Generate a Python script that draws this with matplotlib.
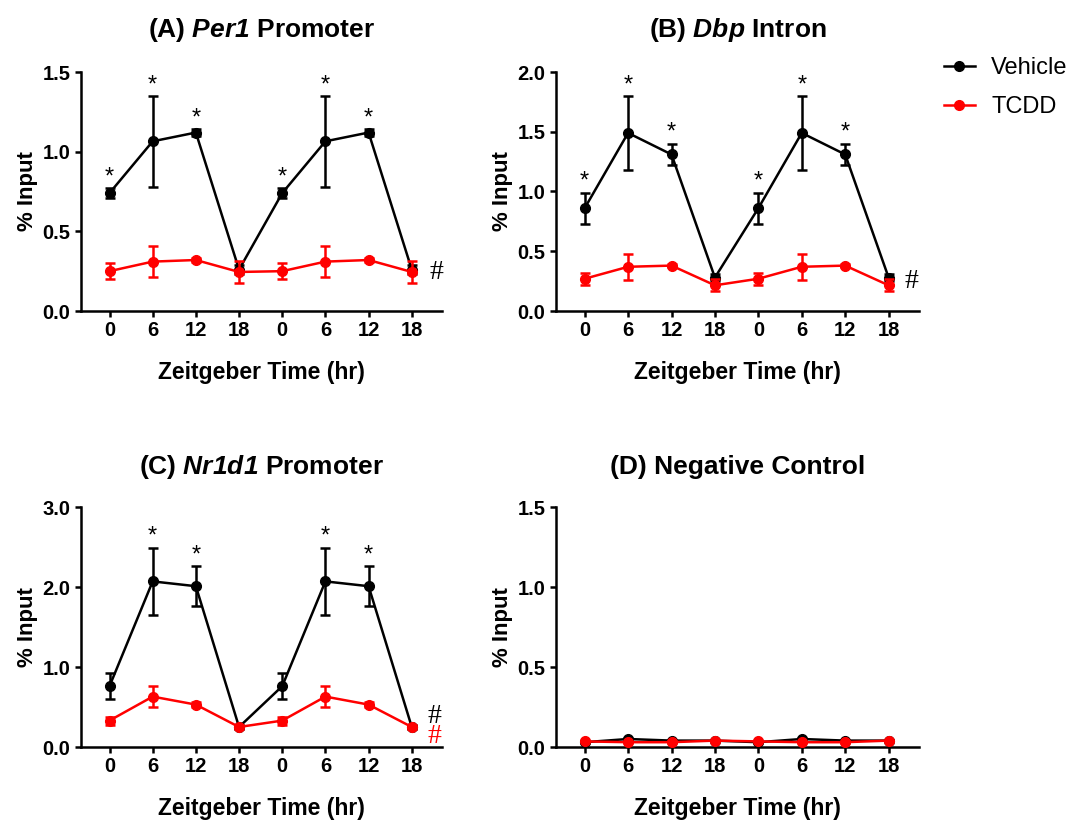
import matplotlib.pyplot as plt
from matplotlib.lines import Line2D
import numpy as np

plt.rcParams['font.family'] = ['Liberation Sans', 'DejaVu Sans']
# gene names: bold italic (digits included)
plt.rcParams['mathtext.fontset'] = 'custom'
plt.rcParams['mathtext.it'] = 'Liberation Sans:bold:italic'
plt.rcParams['mathtext.rm'] = 'Liberation Sans:bold:italic'

# x axis: two repeated circadian cycles
TICK_LABELS = ['0', '6', '12', '18', '0', '6', '12', '18']

# (A) Per1 promoter
A_VEH = [0.74, 1.065, 1.12, 0.26, 0.74, 1.065, 1.12, 0.26]
A_VEH_ERR = [0.03, 0.285, 0.02, 0.03, 0.03, 0.285, 0.02, 0.03]
A_TCDD = [0.25, 0.31, 0.32, 0.245, 0.25, 0.31, 0.32, 0.245]
A_TCDD_ERR = [0.05, 0.095, 0.015, 0.07, 0.05, 0.095, 0.015, 0.07]
A_STARS = [0, 1, 2, 4, 5, 6]

# (B) Dbp intron
B_VEH = [0.86, 1.49, 1.31, 0.28, 0.86, 1.49, 1.31, 0.28]
B_VEH_ERR = [0.13, 0.31, 0.09, 0.03, 0.13, 0.31, 0.09, 0.03]
B_TCDD = [0.27, 0.37, 0.38, 0.215, 0.27, 0.37, 0.38, 0.215]
B_TCDD_ERR = [0.05, 0.11, 0.015, 0.05, 0.05, 0.11, 0.015, 0.05]
B_STARS = [0, 1, 2, 4, 5, 6]

# (C) Nr1d1 promoter
C_VEH = [0.76, 2.07, 2.01, 0.25, 0.76, 2.07, 2.01, 0.25]
C_VEH_ERR = [0.16, 0.42, 0.25, 0.02, 0.16, 0.42, 0.25, 0.02]
C_TCDD = [0.33, 0.63, 0.53, 0.25, 0.33, 0.63, 0.53, 0.25]
C_TCDD_ERR = [0.05, 0.13, 0.03, 0.03, 0.05, 0.13, 0.03, 0.03]
C_STARS = [1, 2, 5, 6]

# (D) Negative control
D_VEH = [0.03, 0.05, 0.04, 0.04, 0.03, 0.05, 0.04, 0.04]
D_VEH_ERR = [0.005, 0.005, 0.005, 0.005, 0.005, 0.005, 0.005, 0.005]
D_TCDD = [0.035, 0.03, 0.03, 0.04, 0.035, 0.03, 0.03, 0.04]
D_TCDD_ERR = [0.005, 0.005, 0.005, 0.005, 0.005, 0.005, 0.005, 0.005]
D_STARS = []

RED = '#ff0000'
W, H = 1069, 821


def px_axes(fig, left, top, right, bottom):
    return fig.add_axes([left / W, 1 - bottom / H, (right - left) / W, (bottom - top) / H])


def draw_panel(ax, title, veh, veh_err, tcdd, tcdd_err, stars, ymax, ystep, title_pad):
    x = np.arange(len(TICK_LABELS))
    style = dict(marker='o', markersize=7, linewidth=1.8, capsize=3.5,
                 capthick=1.8, elinewidth=1.8, clip_on=False)
    ax.errorbar(x, veh, yerr=veh_err, color='black', zorder=3, **style)
    ax.errorbar(x, tcdd, yerr=tcdd_err, color=RED, zorder=4, **style)

    for i in stars:
        ax.annotate('*', (x[i], veh[i] + veh_err[i]), xytext=(0, 3.5),
                    textcoords='offset points', ha='center', va='baseline',
                    fontsize=17)

    ax.set_xlim(-0.66, 7.7)
    ax.set_ylim(0, ymax)
    ax.set_xticks(x)
    ax.set_xticklabels(TICK_LABELS)
    yt = np.arange(0, ymax + 1e-9, ystep)
    ax.set_yticks(yt)
    ax.set_yticklabels([f'{v:.1f}' for v in yt])
    for s in ['top', 'right']:
        ax.spines[s].set_visible(False)
    for s in ['left', 'bottom']:
        ax.spines[s].set_linewidth(1.8)
    ax.tick_params(width=1.8, length=4.5, labelsize=14.5, pad=3)
    for lab in ax.get_xticklabels() + ax.get_yticklabels():
        lab.set_fontweight('bold')
    ax.set_xlabel('Zeitgeber Time (hr)', fontsize=16.5, fontweight='bold', labelpad=14.5)
    ax.set_ylabel('% Input', fontsize=16, fontweight='bold', labelpad=3.5)
    ax.set_title(title, fontsize=19, fontweight='bold', pad=title_pad)


fig = plt.figure(figsize=(W / 100, H / 100), dpi=100)

ax_a = px_axes(fig, 81, 72, 442, 311)
ax_b = px_axes(fig, 556, 72, 919, 311)
ax_c = px_axes(fig, 81, 507, 442, 747)
ax_d = px_axes(fig, 556, 507, 919, 747)

draw_panel(ax_a, r'(A) $\mathit{Per1}$ Promoter', A_VEH, A_VEH_ERR,
           A_TCDD, A_TCDD_ERR, A_STARS, 1.5, 0.5, 25)
draw_panel(ax_b, r'(B) $\mathit{Dbp}$ Intron', B_VEH, B_VEH_ERR,
           B_TCDD, B_TCDD_ERR, B_STARS, 2.0, 0.5, 25)
draw_panel(ax_c, r'(C) $\mathit{Nr1d1}$ Promoter', C_VEH, C_VEH_ERR,
           C_TCDD, C_TCDD_ERR, C_STARS, 3.0, 1.0, 24)
draw_panel(ax_d, '(D) Negative Control', D_VEH, D_VEH_ERR,
           D_TCDD, D_TCDD_ERR, D_STARS, 1.5, 0.5, 24)

# significance marks for treatment effect
hash_kw = dict(fontsize=20, family='Liberation Serif', ha='center', va='center')
ax_a.text(7.57, 0.24, '#', color='black', **hash_kw)
ax_b.text(7.53, 0.243, '#', color='black', **hash_kw)
ax_c.text(7.53, 0.385, '#', color='black', **hash_kw)
ax_c.text(7.53, 0.135, '#', color=RED, **hash_kw)

handles = [Line2D([], [], color='black', marker='o', markersize=7, linewidth=1.8),
           Line2D([], [], color=RED, marker='o', markersize=7, linewidth=1.8)]
fig.legend(handles, ['Vehicle', 'TCDD'], loc='upper left',
           bbox_to_anchor=(944 / W, 1 - 57 / H), frameon=False, fontsize=17,
           handlelength=1.3, handletextpad=0.7, labelspacing=0.72,
           borderpad=0, borderaxespad=0)

fig.savefig('out.png', dpi=100)
